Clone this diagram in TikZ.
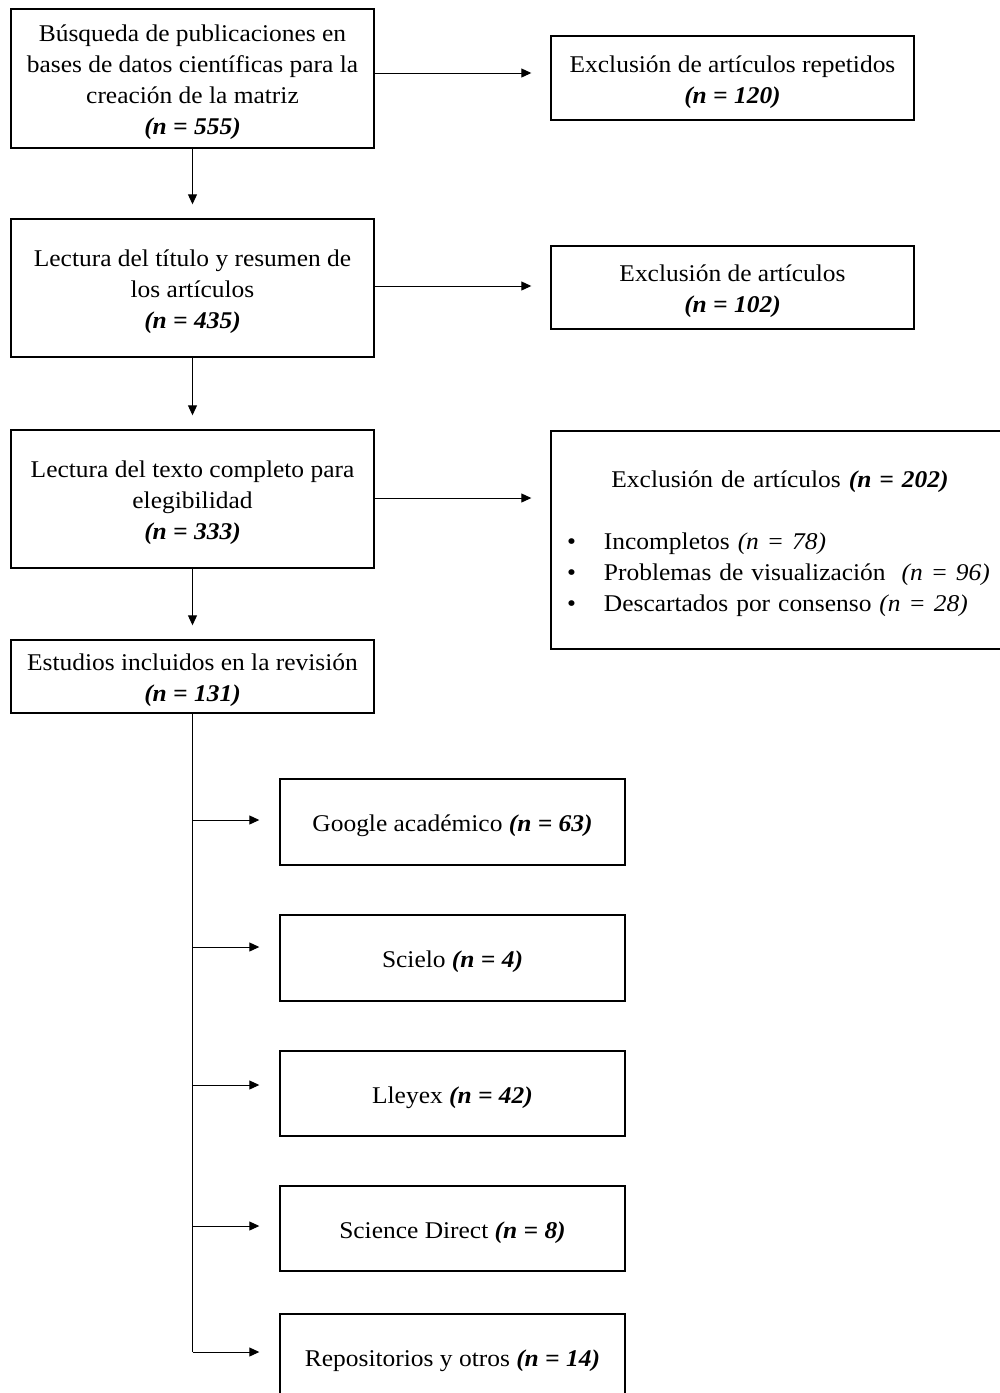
\documentclass[tikz,border=0pt]{standalone}
\usepackage{fontspec}
\setmainfont[FakeStretch=1.06]{Liberation Serif}
\usetikzlibrary{arrows.meta}

\tikzset{
  box/.style={draw, line width=0.7pt, align=flush center, inner sep=0pt, text width=170pt,
    font=\fontsize{12}{15.5}\selectfont,
    execute at begin node={\rule{0pt}{12.5pt}}},
  flecha/.style={-{Triangle[length=5pt,width=4.5pt]}, line width=0.5pt},
}
\newcommand{\nn}[1]{\textbf{\textit{(n = #1)}}}

\begin{document}
\begin{tikzpicture}[x=0.5pt, y=-0.5pt]
\clip (0,0) rectangle (1000,1393);
% columna principal
\node[box, minimum width=181.5pt, minimum height=69.5pt] (busq) at (192.5,78.5)
  {Búsqueda de publicaciones en\\bases de datos científicas para la\\creación de la matriz\\\nn{555}};
\node[box, minimum width=181.5pt, minimum height=69pt] (lect) at (192.5,288)
  {Lectura del título y resumen de\\los artículos\\\nn{435}};
\node[box, minimum width=181.5pt, minimum height=69pt] (texto) at (192.5,499)
  {Lectura del texto completo para\\elegibilidad\\\nn{333}};
\node[box, minimum width=181.5pt, minimum height=36.5pt] (estud) at (192.5,676.5)
  {Estudios incluidos en la revisión\\\nn{131}};
% exclusiones
\node[box, minimum width=181.5pt, minimum height=42pt] (excl1) at (732.5,78)
  {Exclusión de artículos repetidos\\\nn{120}};
\node[box, minimum width=181.5pt, minimum height=41.5pt] (excl2) at (732.5,287.5)
  {Exclusión de artículos\\\nn{102}};
\node[box, align=left, text width=229pt, minimum height=109pt] (excl3) at (780,540)
  {\makebox[229pt]{Exclusión de artículos \nn{202}}\\[15.5pt]
   \hspace*{8pt}\makebox[18.5pt][l]{\textbullet}Incompletos \textit{(n = 78)}\\
   \hspace*{8pt}\makebox[18.5pt][l]{\textbullet}Problemas de visualización\ \ \textit{(n = 96)}\\
   \hspace*{8pt}\makebox[18.5pt][l]{\textbullet}Descartados por consenso \textit{(n = 28)}};
% bases de datos
\node[box, minimum width=172.5pt, minimum height=43pt] (g1) at (452.5,822) {Google académico \nn{63}};
\node[box, minimum width=172.5pt, minimum height=43pt] (g2) at (452.5,958) {Scielo \nn{4}};
\node[box, minimum width=172.5pt, minimum height=42.5pt] (g3) at (452.5,1093.5) {Lleyex \nn{42}};
\node[box, minimum width=172.5pt, minimum height=42.5pt] (g4) at (452.5,1228.5) {Science Direct \nn{8}};
\node[box, minimum width=172.5pt, minimum height=43pt] (g5) at (452.5,1357) {Repositorios y otros \nn{14}};
% conectores
\draw[flecha, shorten >=7pt] (busq.south) -- (lect.north);
\draw[flecha, shorten >=7pt] (lect.south) -- (texto.north);
\draw[flecha, shorten >=7pt] (texto.south) -- (estud.north);
\foreach \a/\b/\dy in {busq/excl1/2.75, lect/excl2/1, texto/excl3/0.5}
  \draw[flecha, shorten >=9.5pt] ([yshift=\dy pt]\a.east) -- ([yshift=\dy pt]\a.east -| \b.west);
\coordinate (fin) at ([yshift=2.5pt]estud.south |- g5.west);
\draw[line width=0.5pt] (estud.south) -- (fin);
\foreach \g/\dy in {g1/1, g2/5.5, g3/4.25, g4/1.25, g5/2.5}
  \draw[flecha, shorten >=10pt] ([yshift=\dy pt]estud.south |- \g.west) -- ([yshift=\dy pt]\g.west);
\end{tikzpicture}
\end{document}
